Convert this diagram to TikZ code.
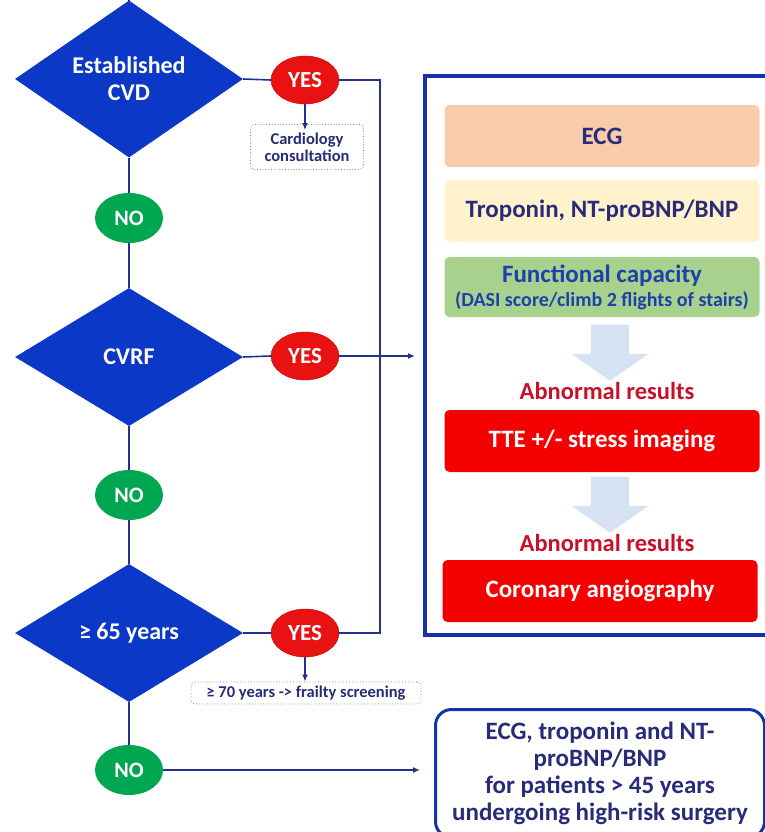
\documentclass[tikz,border=0pt]{standalone}
\usepackage{fontspec}
\setmainfont{Carlito}
\usetikzlibrary{shapes.geometric,shapes.arrows,arrows.meta,positioning}
\definecolor{decblue}{RGB}{12,56,200}
\definecolor{linkblue}{RGB}{38,48,140}
\definecolor{yesred}{RGB}{232,18,18}
\definecolor{nogreen}{RGB}{0,166,80}
\definecolor{ecgpeach}{RGB}{248,203,173}
\definecolor{tropyellow}{RGB}{255,242,204}
\definecolor{funcgreen}{RGB}{169,209,142}
\definecolor{testred}{RGB}{245,0,0}
\definecolor{abnred}{RGB}{200,16,40}
\definecolor{navytext}{RGB}{40,44,120}
\definecolor{funcblue}{RGB}{30,64,170}
\definecolor{hintblue}{RGB}{214,226,243}
\definecolor{frameblue}{RGB}{22,50,170}
\definecolor{notegray}{RGB}{120,128,156}
\tikzset{
  decision/.style={diamond, fill=decblue, text=white, inner sep=0pt,
    minimum width=228pt, minimum height=138pt, align=center,
    font=\fontsize{24}{27}\selectfont\bfseries},
  yesnode/.style={ellipse, fill=yesred, draw=red!75!black, text=white, inner sep=0pt,
    minimum width=68pt, minimum height=48pt, font=\fontsize{23}{25}\selectfont\bfseries},
  nonode/.style={ellipse, fill=nogreen, text=white, inner sep=0pt,
    minimum width=68pt, minimum height=50pt, font=\fontsize{22}{24}\selectfont\bfseries},
  note/.style={draw=notegray, dotted, thick, rounded corners=4pt, fill=white,
    text=navytext, align=center, inner sep=2pt},
  testbox/.style={rounded corners=5pt, minimum width=315pt, minimum height=62pt,
    align=center, inner sep=0pt, font=\fontsize{25}{28}\selectfont\bfseries},
  hint/.style={single arrow, fill=hintblue, rotate=-90, inner sep=19pt,
    single arrow head extend=19pt, single arrow tip angle=110, minimum height=56pt},
  link/.style={draw=linkblue, line width=1.6pt},
  arr/.style={link, -{Latex[length=7pt,width=6pt]}}
}
\begin{document}
\begin{tikzpicture}[x=1pt, y=-1pt]
\useasboundingbox (0,0) rectangle (764,832);
% work-up frame
\draw[frameblue, line width=3.5pt] (425,76) rectangle (780,635);
\node[testbox, fill=ecgpeach, text=navytext] (ecg) at (602,136) {ECG};
\node[testbox, fill=tropyellow, text=navytext] (trop) at (602,211) {Troponin, NT-proBNP/BNP};
\node[testbox, fill=funcgreen, text=funcblue, minimum height=60pt] (func) at (602,287)
  {Functional capacity\\[-4pt]{\fontsize{20}{22}\selectfont(DASI score/climb 2 flights of stairs)}};
\node[hint] (hint1) at (610,346) {};
\node[text=abnred, font=\fontsize{24.5}{27}\selectfont\bfseries] (abn1) at (607,391) {Abnormal results};
\node[testbox, fill=testred, text=white] (tte) at (602,441) {TTE +/- stress imaging};
\node[hint] (hint2) at (610,498) {};
\node[text=abnred, font=\fontsize{24.5}{27}\selectfont\bfseries] (abn2) at (607,543) {Abnormal results};
\node[testbox, fill=testred, text=white] (cag) at (600,591) {Coronary angiography};
% low-risk box
\node[draw=frameblue, line width=3pt, rounded corners=16pt, anchor=north west,
  minimum width=329pt, minimum height=128pt, text=navytext, align=center, inner sep=0pt,
  font=\fontsize{25}{27}\selectfont\bfseries] (lowrisk) at (434,708)
  {ECG, troponin and NT-\\proBNP/BNP\\for patients > 45 years\\undergoing high-risk surgery};
% decisions
\coordinate (entry) at (129,0);
\node[decision] (cvd) at (129,79) {Established\\CVD};
\node[yesnode] (yes1) at (305,80) {YES};
\node[note, font=\fontsize{16.5}{17}\selectfont\bfseries, minimum width=113pt, minimum height=45pt]
  (cardio) at (307,147) {Cardiology\\consultation};
\node[nonode] (no1) at (129,218) {NO};
\node[decision] (cvrf) at (129,357) {CVRF};
\node[yesnode] (yes2) at (305,356) {YES};
\node[nonode] (no2) at (129,495) {NO};
\node[decision] (age) at (129,633) {≥ 65 years};
\node[yesnode] (yes3) at (305,633) {YES};
\node[note, font=\fontsize{16.5}{17}\selectfont\bfseries, minimum width=230pt, minimum height=22pt]
  (frail) at (306,693) {≥ 70 years -> frailty screening};
\node[nonode] (no3) at (129,770) {NO};
\coordinate (jtop) at (380,80);
\coordinate (jbot) at (380,633);
\coordinate (boxin) at (415,356);
\coordinate (lowin) at (420,770);
% connectors
\draw[link] (entry) -- (cvd.north);
\draw[link] (cvd.east) -- (yes1.west);
\draw[link] (yes1.east) -- (jtop) -- (jbot) -- (yes3.east);
\draw[arr] (yes1.south) -- ([yshift=-6pt]yes1.south |- cardio.north);
\draw[link] (cvd.south) -- (no1.north);
\draw[link] (no1.south) -- (cvrf.north);
\draw[link] (cvrf.east) -- (yes2.west);
\draw[arr] (yes2.east) -- (boxin);
\draw[link] (cvrf.south) -- (no2.north);
\draw[link] (no2.south) -- (age.north);
\draw[link] (age.east) -- (yes3.west);
\draw[arr] (yes3.south) -- (yes3.south |- frail.north);
\draw[link] (age.south) -- (no3.north);
\draw[arr] (no3.east) -- (lowin);
\end{tikzpicture}
\end{document}
